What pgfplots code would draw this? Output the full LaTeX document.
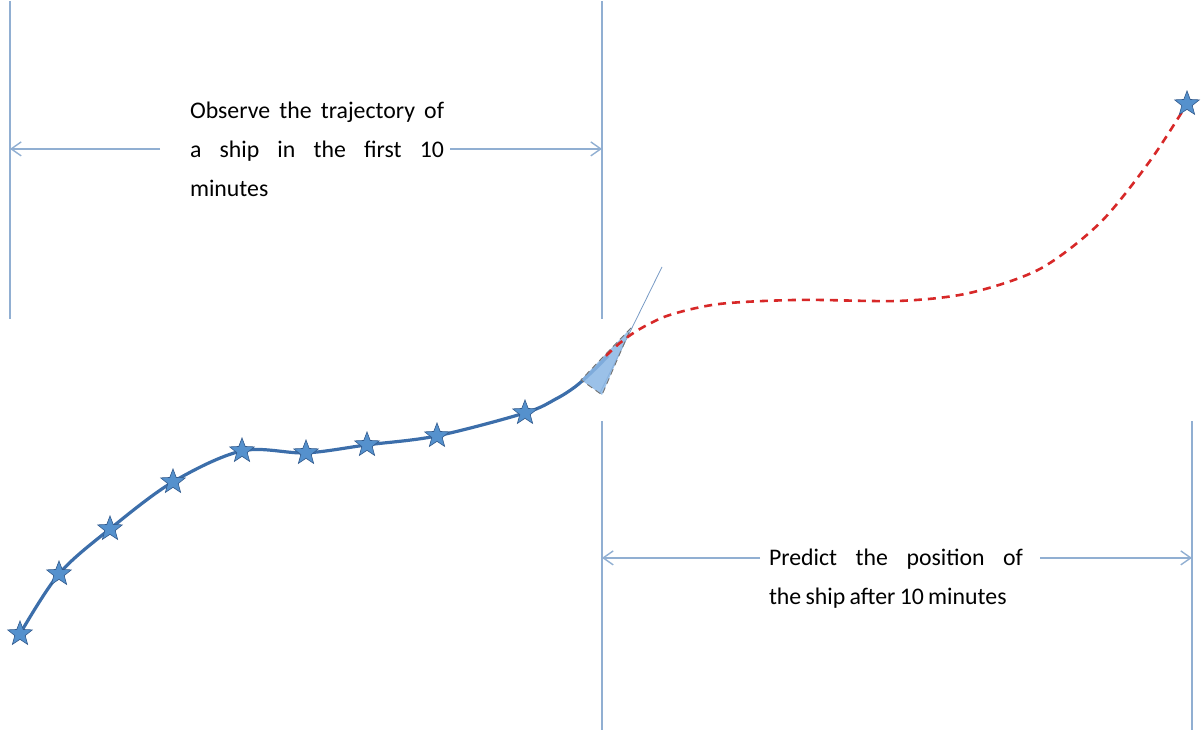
\documentclass[border=0pt]{standalone}
\usepackage{fontspec}
\setmainfont{Carlito}
\usepackage{pgfplots}
\pgfplotsset{compat=1.18}
\usetikzlibrary{arrows.meta}
\definecolor{vline}{RGB}{145,175,210}
\definecolor{traj}{RGB}{60,110,170}
\definecolor{starfill}{RGB}{85,145,205}
\definecolor{stardraw}{RGB}{50,90,140}
\definecolor{pred}{RGB}{215,40,40}
\definecolor{shipfill}{RGB}{138,182,228}
\pgfdeclareplotmark{fstar}{%
  \pgfpathmoveto{\pgfpointpolar{90}{\pgfplotmarksize}}%
  \pgfpathlineto{\pgfpointpolar{126}{0.42\pgfplotmarksize}}%
  \pgfpathlineto{\pgfpointpolar{162}{\pgfplotmarksize}}%
  \pgfpathlineto{\pgfpointpolar{198}{0.42\pgfplotmarksize}}%
  \pgfpathlineto{\pgfpointpolar{234}{\pgfplotmarksize}}%
  \pgfpathlineto{\pgfpointpolar{270}{0.42\pgfplotmarksize}}%
  \pgfpathlineto{\pgfpointpolar{306}{\pgfplotmarksize}}%
  \pgfpathlineto{\pgfpointpolar{342}{0.42\pgfplotmarksize}}%
  \pgfpathlineto{\pgfpointpolar{18}{\pgfplotmarksize}}%
  \pgfpathlineto{\pgfpointpolar{54}{0.42\pgfplotmarksize}}%
  \pgfpathclose
  \pgfusepathqfillstroke}
\begin{document}
\begin{tikzpicture}
\begin{axis}[
  width=602pt, height=364.5pt, scale only axis,
  xmin=0, xmax=1204, ymin=0, ymax=729,
  hide axis, clip=false]
\path (axis cs:0,0) rectangle (axis cs:1204,729);
% vertical guide lines
\addplot[vline, line width=0.9pt] coordinates {(10,411) (10,729)};
\addplot[vline, line width=0.9pt] coordinates {(602,411) (602,729)};
\addplot[vline, line width=0.9pt] coordinates {(602,0) (602,309)};
\addplot[vline, line width=0.9pt] coordinates {(1192,0) (1192,309)};
% arrows
\addplot[vline, line width=0.7pt, -{Straight Barb[length=5pt,width=7pt]}] coordinates {(160,581) (10,581)};
\addplot[vline, line width=0.7pt, -{Straight Barb[length=5pt,width=7pt]}] coordinates {(450,581) (602,581)};
\addplot[vline, line width=0.7pt, -{Straight Barb[length=5pt,width=7pt]}] coordinates {(760,172) (602,172)};
\addplot[vline, line width=0.7pt, -{Straight Barb[length=5pt,width=7pt]}] coordinates {(1040,172) (1192,172)};
% ship heading line
\addplot[traj!70, line width=0.4pt] coordinates {(600,337) (662,463)};
% observed trajectory
\addplot[traj, line width=1.6pt, smooth, tension=0.55] coordinates {
 (20,96) (59,156) (110,201) (173,248) (242,279) (306,277) (367,285) (437,294) (525,317) (556,331) (575,343) (592,358) (608,374)};
% ship
\addplot[fill=shipfill, fill opacity=0.85, draw=gray!90!black, line width=0.45pt, densely dashed] coordinates {(631,402) (581,350) (602,335)} -- cycle;
% predicted trajectory
\addplot[pred, line width=1.3pt, dash pattern=on 4pt off 3pt, smooth] coordinates {
 (606,374) (620,387) (640,401) (670,415) (720,426) (800,430) (900,429) (970,437) (1040,461) (1100,507) (1150,569) (1187,626)};
\addplot[only marks, mark=fstar, mark size=6.5pt, mark options={fill=starfill, draw=stardraw, line width=0.3pt}] coordinates {
 (20,96) (59,156) (110,201) (173,248) (242,279) (306,277) (367,285) (437,294) (525,317) (1187,626)};
% texts
\node[text width=127pt, align=left, inner sep=0pt, text=black, font=\fontsize{11.9}{19.5}\selectfont] at (axis cs:317,581)
 {Observe\hfill the\hfill trajectory\hfill of\\ a\hfill ship\hfill in\hfill the\hfill first\hfill 10\\ minutes};
\node[text width=127pt, align=left, inner sep=0pt, text=black, font=\fontsize{11.9}{19.5}\selectfont] at (axis cs:896,151)
 {Predict\hfill the\hfill position\hfill of\\ \mbox{\spaceskip=0.8\fontdimen2\font plus 0.1em\relax the ship after 10 minutes}};
\end{axis}
\end{tikzpicture}
\end{document}
